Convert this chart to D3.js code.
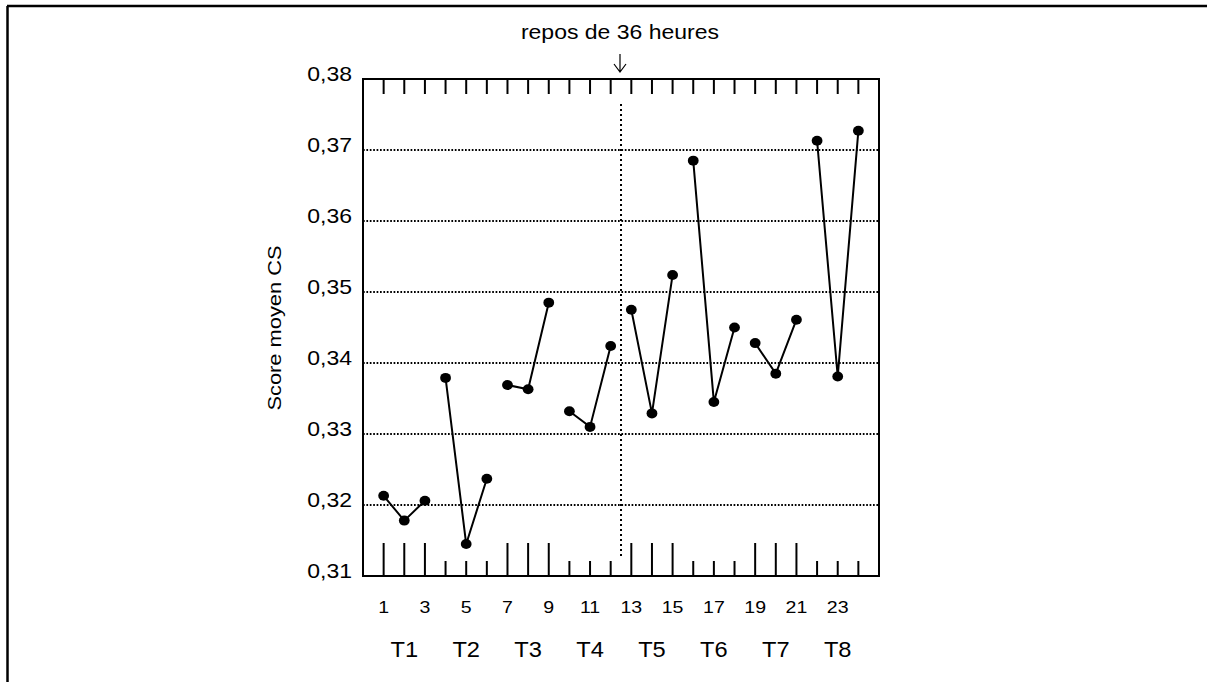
<!DOCTYPE html>
<html>
<head>
<meta charset="utf-8">
<script src="https://cdn.jsdelivr.net/npm/d3@7"></script>
<style>
  html, body { margin: 0; padding: 0; background: #fff; }
  text { font-family: Arial, "Liberation Sans", sans-serif; fill: #000; }
</style>
</head>
<body>
<svg id="chart" width="1207" height="682"></svg>
<script>
// ---- data ----
const sessions = d3.range(1, 25);
const scores = [0.3213, 0.3178, 0.3206, 0.3379, 0.3145, 0.3237, 0.3369, 0.3363, 0.3485,
                0.3332, 0.3310, 0.3424, 0.3475, 0.3329, 0.3524, 0.3685, 0.3345, 0.3450,
                0.3428, 0.3385, 0.3461, 0.3713, 0.3381, 0.3727];
const groupLabels = ["T1", "T2", "T3", "T4", "T5", "T6", "T7", "T8"];
const xTickLabels = [1, 3, 5, 7, 9, 11, 13, 15, 17, 19, 21, 23];
const yTicks = [0.31, 0.32, 0.33, 0.34, 0.35, 0.36, 0.37, 0.38];
const restPosition = 12.5;
const restLabel = "repos de 36 heures";
const yTitle = "Score moyen CS";

// ---- layout ----
const svg = d3.select("#chart");
const L = 363, R = 879, T = 79, B = 576;
const x = d3.scaleLinear().domain([0, 25]).range([L, R]);
const y = d3.scaleLinear().domain([0.31, 0.38]).range([B, T]);
const fmt = v => d3.format(".2f")(v).replace(".", ",");

// outer frame (top and left)
svg.append("line").attr("x1", 7).attr("x2", 1207).attr("y1", 6).attr("y2", 6)
  .attr("stroke", "#000").attr("stroke-width", 2.5);
svg.append("line").attr("x1", 7.5).attr("x2", 7.5).attr("y1", 6).attr("y2", 682)
  .attr("stroke", "#000").attr("stroke-width", 2.5);

// gridlines
svg.append("g").selectAll("line")
  .data(yTicks.filter(v => v > 0.31 && v < 0.38))
  .join("line")
  .attr("x1", L).attr("x2", R)
  .attr("y1", d => y(d)).attr("y2", d => y(d))
  .attr("stroke", "#000").attr("stroke-width", 2)
  .attr("stroke-dasharray", "1.7,1.7");

// rest vertical dotted line
svg.append("line")
  .attr("x1", x(restPosition)).attr("x2", x(restPosition))
  .attr("y1", 104).attr("y2", 557)
  .attr("stroke", "#000").attr("stroke-width", 2)
  .attr("stroke-dasharray", "2,3");

// top ticks
svg.append("g").selectAll("line").data(sessions).join("line")
  .attr("x1", d => x(d)).attr("x2", d => x(d))
  .attr("y1", T).attr("y2", T + 15)
  .attr("stroke", "#000").attr("stroke-width", 2);

// bottom ticks (tall for odd groups, short for even groups)
svg.append("g").selectAll("line").data(sessions).join("line")
  .attr("x1", d => x(d)).attr("x2", d => x(d))
  .attr("y1", B)
  .attr("y2", d => (Math.floor((d - 1) / 3) % 2 === 0) ? B - 33 : B - 15)
  .attr("stroke", "#000").attr("stroke-width", 2);

// plot frame
svg.append("rect").attr("x", L).attr("y", T).attr("width", R - L).attr("height", B - T)
  .attr("fill", "none").attr("stroke", "#000").attr("stroke-width", 2);

// y tick labels
svg.append("g").selectAll("text").data(yTicks).join("text")
  .attr("transform", d => `translate(352,${y(d) + 2}) scale(1.15,1)`)
  .attr("text-anchor", "end")
  .style("font-size", "20px")
  .text(d => fmt(d));

// x tick labels
svg.append("g").selectAll("text").data(xTickLabels).join("text")
  .attr("transform", d => `translate(${x(d)},612.5) scale(1.15,1)`)
  .attr("text-anchor", "middle")
  .style("font-size", "17px")
  .text(d => d);

// group labels
svg.append("g").selectAll("text").data(groupLabels).join("text")
  .attr("transform", (d, i) => `translate(${x(i * 3 + 2)},656.5) scale(1.1,1)`)
  .attr("text-anchor", "middle")
  .style("font-size", "21.5px")
  .text(d => d);

// y title
svg.append("text")
  .attr("transform", `translate(281,328) rotate(-90) scale(1.15,1)`)
  .attr("text-anchor", "middle")
  .style("font-size", "19px")
  .text(yTitle);

// rest annotation
svg.append("text")
  .attr("transform", `translate(${x(restPosition) - 1},39) scale(1.15,1)`)
  .attr("text-anchor", "middle")
  .style("font-size", "20px")
  .text(restLabel);
const ax = x(restPosition) - 1;
svg.append("path")
  .attr("d", `M${ax},54 L${ax},72 M${ax - 6},64 L${ax},72 L${ax + 6},64`)
  .attr("fill", "none").attr("stroke", "#000").attr("stroke-width", 1.2);

// data lines per group of 3
const pts = sessions.map((s, i) => ({ s, v: scores[i], g: Math.floor(i / 3) }));
const line = d3.line().x(d => x(d.s)).y(d => y(d.v));
svg.append("g").selectAll("path")
  .data(d3.groups(pts, d => d.g).map(g => g[1]))
  .join("path")
  .attr("d", line)
  .attr("fill", "none").attr("stroke", "#000").attr("stroke-width", 2);

// dots
svg.append("g").selectAll("ellipse").data(pts).join("ellipse")
  .attr("cx", d => x(d.s)).attr("cy", d => y(d.v))
  .attr("rx", 5.4).attr("ry", 5)
  .attr("fill", "#000");
</script>
</body>
</html>
